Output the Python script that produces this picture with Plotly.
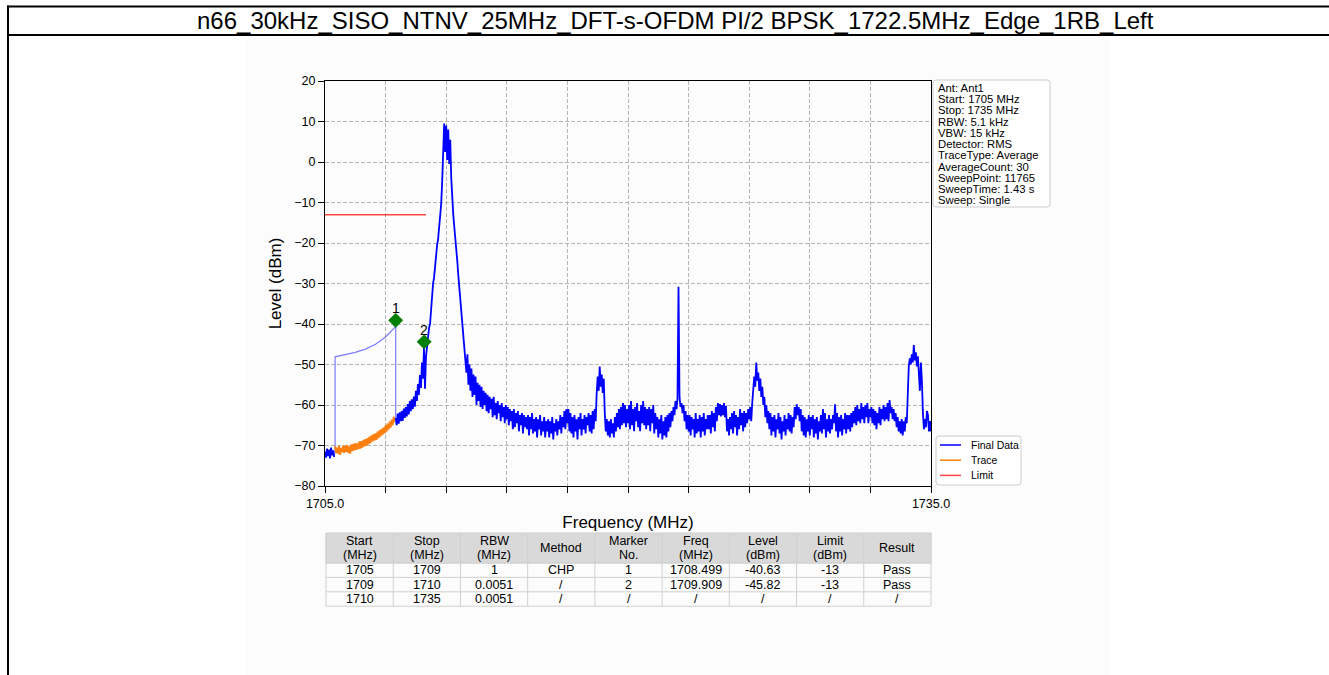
import numpy as np
import plotly.graph_objects as go

W, H = 1329, 675

title_text = "n66_30kHz_SISO_NTNV_25MHz_DFT-s-OFDM PI/2 BPSK_1722.5MHz_Edge_1RB_Left"

# ---- spectrum data (MHz / dBm), sampled every 0.05 MHz ----
step = 0.05
blue_a_start = 1705.0
blue_a_level = [-71.5, -73.0, -70.8, -72.6, -71.0, -73.2, -70.5, -72.4, -71.2, -72.8]

orange_start = 1705.5
orange_level = [
    -70.2, -71.9, -70.5, -72.0, -70.1, -72.3, -70.6, -71.7, -70.0, -71.8,
    -70.1, -71.6, -69.9, -71.8, -70.2, -72.0, -69.7, -71.4, -69.6, -71.2,
    -69.4, -71.1, -69.5, -70.9, -69.0, -70.8, -68.9, -70.5, -68.6, -70.2,
    -68.4, -70.1, -68.2, -69.7, -67.8, -69.4, -67.5, -69.0, -67.2, -68.8,
    -67.0, -68.6, -66.6, -68.2, -66.2, -67.8, -65.9, -67.4, -65.5, -67.0,
    -65.0, -66.6, -64.6, -66.1, -64.1, -65.6, -63.6, -65.0, -62.9, -64.3,
]

chp_freq = [1705.5, 1705.5, 1706.0, 1706.5, 1707.0, 1707.5, 1708.0, 1708.5, 1708.5]
chp_level = [-71.0, -48.1, -47.6, -47.0, -46.2, -45.0, -43.2, -40.6, -63.2]

blue_b_start = 1708.5
blue_b_level = [
    -63.2, -65.0, -62.1, -64.6, -61.8, -64.0, -61.5, -63.9, -60.9, -63.2,
    -60.5, -62.8, -59.8, -62.3, -59.0, -61.5, -58.6, -61.0, -57.9, -60.4, -56.5, -59.0, -54.8, -57.5, -52.6, -55.8, -49.5, -53.5, -45.9, -56.0,
    -48.0, -45.0, -44.0, -41.0, -40.0, -36.0, -34.0, -30.0, -28.5, -25.0, -23.5, -20.5, -19.0, -16.0, -14.0, -10.5, -5.0, 4.0, 9.5, 2.5,
    9.0, 0.5, 8.0, -0.5, 5.5, -4.0, -10.5, -13.0, -16.0, -18.5, -22.0, -24.5, -28.0, -31.0, -34.5, -37.0, -40.0, -43.0, -45.0, -48.0,
    -52.0, -47.5, -55.0, -50.0, -56.5, -51.0, -58.0, -52.5, -57.5, -53.0, -60.0, -54.5, -59.0, -55.0, -60.5, -55.5, -61.0, -56.5, -60.0, -57.0,
    -61.5, -57.5, -62.0, -58.0, -61.0, -58.5, -63.0, -58.0, -62.5, -59.5, -63.5, -59.0, -62.0, -60.0, -64.0, -59.5, -63.0, -60.5, -64.5, -60.0,
    -63.5, -60.5, -65.0, -61.0, -64.0, -61.5, -66.0, -61.0, -65.5, -62.0, -64.5, -61.5, -66.5, -62.5, -65.0, -62.0, -67.0, -62.5, -65.5, -63.0,
    -66.0, -62.5, -67.5, -63.0, -66.0, -62.0, -67.0, -63.5, -66.5, -63.0, -68.0, -63.5, -66.0, -62.5, -67.5, -64.0, -66.5, -63.0, -68.0, -64.0,
    -66.5, -63.5, -68.0, -64.0, -67.0, -63.0, -68.5, -64.5, -66.5, -63.5, -67.5, -64.0, -66.0, -62.5, -67.0, -63.0, -65.5, -61.5, -66.0, -61.0,
    -64.5, -61.0, -66.5, -62.0, -67.0, -63.0, -68.0, -62.5, -66.5, -63.5, -68.5, -63.0, -66.0, -62.0, -67.5, -63.5, -66.0, -62.5, -67.0, -63.0,
    -65.0, -62.0, -66.5, -62.5, -67.0, -61.5, -66.0, -61.0, -64.0, -57.0, -53.0, -56.5, -50.5, -55.5, -52.5, -57.0, -53.5, -62.0, -66.5, -63.5,
    -67.5, -64.0, -68.0, -63.5, -67.0, -64.5, -68.0, -63.0, -66.5, -62.0, -65.5, -61.0, -66.0, -60.5, -65.0, -59.5, -64.5, -60.0, -65.5, -61.0,
    -64.5, -60.0, -66.0, -59.0, -65.0, -61.0, -66.5, -60.5, -64.0, -59.5, -65.5, -61.5, -66.5, -60.0, -64.5, -59.0, -65.0, -60.5, -66.0, -61.0,
    -65.0, -60.5, -66.5, -61.0, -64.5, -60.0, -67.0, -62.0, -66.0, -63.0, -68.0, -63.5, -67.0, -62.5, -68.5, -64.0, -67.5, -63.0, -68.0, -62.5,
    -66.5, -62.0, -65.5, -61.5, -64.0, -60.5, -62.5, -59.0, -61.0, -58.5, -30.8, -58.0, -60.5, -59.5, -62.0, -60.0, -64.0, -61.5, -66.0, -62.5,
    -66.5, -62.5, -67.5, -63.0, -66.0, -63.5, -68.0, -62.0, -67.0, -63.5, -66.5, -62.5, -68.0, -63.0, -66.5, -62.0, -67.5, -63.5, -66.0, -62.5,
    -66.0, -62.5, -67.0, -61.5, -65.5, -62.0, -66.5, -60.5, -64.0, -59.5, -62.5, -59.8, -62.8, -60.0, -62.5, -59.5, -63.0, -60.2, -66.5, -63.5,
    -67.5, -63.0, -66.0, -62.0, -67.0, -61.5, -65.5, -62.5, -67.5, -63.0, -66.0, -61.0, -65.0, -62.0, -66.5, -61.5, -65.5, -62.0, -64.5, -61.0,
    -63.5, -60.5, -64.0, -59.5, -57.0, -53.0, -55.5, -49.5, -54.0, -52.0, -56.5, -53.5, -58.0, -55.5, -60.0, -58.0, -63.0, -60.0, -64.5, -61.5,
    -66.0, -62.0, -67.5, -63.0, -66.5, -62.5, -68.0, -63.5, -66.0, -62.0, -67.0, -63.0, -68.5, -64.0, -66.5, -62.5, -67.5, -63.5, -66.0, -62.0,
    -66.5, -62.5, -67.0, -63.0, -65.5, -60.5, -63.5, -59.8, -62.5, -60.5, -64.0, -61.0, -66.5, -62.5, -67.5, -63.0, -68.0, -63.5, -66.5, -62.5,
    -67.5, -63.0, -66.0, -62.5, -68.0, -63.5, -67.0, -63.0, -68.5, -64.0, -66.5, -62.5, -67.0, -61.0, -66.0, -62.0, -68.0, -63.5, -66.5, -62.5,
    -67.0, -63.5, -66.0, -62.5, -64.5, -59.8, -66.5, -62.0, -68.0, -63.0, -66.5, -62.5, -67.5, -63.5, -66.0, -62.0, -67.0, -62.5, -66.0, -62.5,
    -66.5, -62.0, -65.5, -61.5, -64.5, -60.5, -65.0, -60.0, -64.0, -61.0, -64.5, -59.5, -63.5, -60.5, -64.5, -60.0, -63.0, -59.5, -64.5, -61.0,
    -63.0, -60.5, -64.5, -61.0, -65.0, -61.5, -66.0, -62.0, -64.5, -60.5, -65.0, -61.0, -63.5, -60.0, -64.0, -60.5, -63.5, -59.5, -64.0, -58.8,
    -62.0, -60.5, -63.5, -61.0, -64.0, -62.0, -65.5, -63.0, -66.5, -64.0, -67.0, -63.5, -67.5, -64.0, -66.5, -63.0, -64.5, -55.0, -50.5, -48.5,
    -50.0, -47.5, -49.5, -45.2, -49.0, -47.0, -50.5, -48.0, -51.5, -56.5, -49.5, -54.0, -62.0, -66.0, -63.5, -65.5, -61.5, -62.5, -66.5, -64.0,
    -66.5,
]

limit_freq = [1705.0, 1709.0, 1710.0]
limit_level = [-13.0, -13.0, -13.0]

marker_names = ["1", "2"]
marker_freq = [1708.499, 1709.909]
marker_plot_level = [-39.1, -44.4]

x_ticks = [1705, 1708, 1711, 1714, 1717, 1720, 1723, 1726, 1729, 1732, 1735]
x_ticktext = ["1705.0", "", "", "", "", "", "", "", "", "", "1735.0"]
y_ticks = [-80, -70, -60, -50, -40, -30, -20, -10, 0, 10, 20]

info_lines = [
    "Ant: Ant1", "Start: 1705 MHz", "Stop: 1735 MHz", "RBW: 5.1 kHz", "VBW: 15 kHz",
    "Detector: RMS", "TraceType: Average", "AverageCount: 30", "SweepPoint: 11765",
    "SweepTime: 1.43 s", "Sweep: Single",
]

legend_names = ["Final Data", "Trace", "Limit"]
legend_colors = ["#0000ff", "#ff7f0e", "rgba(255,0,0,0.72)"]

table_header = [["Start", "(MHz)"], ["Stop", "(MHz)"], ["RBW", "(MHz)"], ["Method"],
                ["Marker", "No."], ["Freq", "(MHz)"], ["Level", "(dBm)"], ["Limit", "(dBm)"], ["Result"]]
table_rows = [
    ["1705", "1709", "1", "CHP", "1", "1708.499", "-40.63", "-13", "Pass"],
    ["1709", "1710", "0.0051", "/", "2", "1709.909", "-45.82", "-13", "Pass"],
    ["1710", "1735", "0.0051", "/", "/", "/", "/", "/", "/"],
]

# ---- build arrays ----
blue_a_freq = np.round(blue_a_start + step * np.arange(len(blue_a_level)), 3)
orange_freq = np.round(orange_start + step * np.arange(len(orange_level)), 3)
blue_b_freq = np.round(blue_b_start + step * np.arange(len(blue_b_level)), 3)


def px(x):
    return x / W


def py(y):
    return 1 - y / H


FONT = "Liberation Sans, Arial, Helvetica, sans-serif"
BLUE = "#0000ff"

fig = go.Figure()

# CHP segment of the final data (thin line)
fig.add_trace(go.Scatter(
    x=[blue_a_freq[-1]] + chp_freq, y=[blue_a_level[-1]] + chp_level, mode="lines",
    line=dict(color="rgba(40,40,255,0.6)", width=1.2), showlegend=False, hoverinfo="skip"))

fig.add_trace(go.Scatter(x=orange_freq, y=orange_level, mode="lines", name="Trace",
                         line=dict(color="#ff7f0e", width=1.8), showlegend=False))

fig.add_trace(go.Scatter(x=blue_a_freq, y=blue_a_level, mode="lines", name="Final Data",
                         line=dict(color=BLUE, width=1.8), showlegend=False))
fig.add_trace(go.Scatter(x=blue_b_freq, y=blue_b_level, mode="lines", name="Final Data",
                         line=dict(color=BLUE, width=1.8), showlegend=False))

fig.add_trace(go.Scatter(x=limit_freq, y=limit_level, mode="lines", name="Limit",
                         line=dict(color="rgba(255,0,0,0.72)", width=1.5), showlegend=False))

fig.add_trace(go.Scatter(x=marker_freq, y=marker_plot_level, mode="markers",
                         marker=dict(symbol="diamond", size=11, color="#008000",
                                     line=dict(color="#006400", width=0.5)),
                         showlegend=False))

annotations = []
for name, f, lv in zip(marker_names, marker_freq, marker_plot_level):
    annotations.append(dict(x=f, y=lv, xref="x", yref="y", text=name, showarrow=False,
                            yshift=12, font=dict(family=FONT, size=14, color="black")))

shapes = []
# page frame
shapes.append(dict(type="rect", xref="paper", yref="paper", x0=px(247), x1=px(1110), y0=py(675), y1=py(37),
                   fillcolor="#fcfcfc", line=dict(width=0), layer="below"))
shapes.append(dict(type="line", xref="paper", yref="paper", x0=px(7), x1=px(1329), y0=py(6.5), y1=py(6.5),
                   line=dict(color="black", width=2)))
shapes.append(dict(type="line", xref="paper", yref="paper", x0=px(7), x1=px(1329), y0=py(35), y1=py(35),
                   line=dict(color="black", width=2)))
shapes.append(dict(type="line", xref="paper", yref="paper", x0=px(8), x1=px(8), y0=py(5.5), y1=py(675),
                   line=dict(color="black", width=2)))
annotations.append(dict(x=px(675), y=py(21), xref="paper", yref="paper", text=title_text, showarrow=False,
                        xanchor="center", yanchor="middle", font=dict(family=FONT, size=24, color="black")))


def rounded_box(x0, y0, x1, y1, r=3):
    X0, X1 = px(x0), px(x1)
    Y0, Y1 = py(y0), py(y1)
    rx, ry = r / W, r / H
    return (f"M {X0+rx},{Y0} L {X1-rx},{Y0} Q {X1},{Y0} {X1},{Y0-ry} L {X1},{Y1+ry} "
            f"Q {X1},{Y1} {X1-rx},{Y1} L {X0+rx},{Y1} Q {X0},{Y1} {X0},{Y1+ry} "
            f"L {X0},{Y0-ry} Q {X0},{Y0} {X0+rx},{Y0} Z")


# info box
shapes.append(dict(type="path", xref="paper", yref="paper", path=rounded_box(933, 80, 1050, 207),
                   fillcolor="white", line=dict(color="#cccccc", width=1)))
for i, t in enumerate(info_lines):
    annotations.append(dict(x=px(936.5), y=py(88.0 + i * 11.25), xref="paper", yref="paper", text=t,
                            showarrow=False, xanchor="left", yanchor="middle",
                            font=dict(family=FONT, size=11.3, color="black")))

# legend box
shapes.append(dict(type="path", xref="paper", yref="paper", path=rounded_box(936, 436, 1021, 485),
                   fillcolor="white", line=dict(color="#cccccc", width=1)))
for i, (n, c) in enumerate(zip(legend_names, legend_colors)):
    yy = 445 + i * 15.2
    shapes.append(dict(type="line", xref="paper", yref="paper", x0=px(940), x1=px(961), y0=py(yy), y1=py(yy),
                       line=dict(color=c, width=1.5)))
    annotations.append(dict(x=px(969), y=py(yy), xref="paper", yref="paper", text=n, showarrow=False,
                            xanchor="left", yanchor="middle", font=dict(family=FONT, size=10.5, color="black")))

# table
tx0, tx1 = 326, 931
ncol = len(table_header)
cw = (tx1 - tx0) / ncol
hy0, hy1 = 533, 563
row_h = 14.4
shapes.append(dict(type="rect", xref="paper", yref="paper", x0=px(tx0), x1=px(tx1), y0=py(hy1), y1=py(hy0),
                   fillcolor="#d9d9d9", line=dict(color="#d0d0d0", width=1)))
ty_end = hy1 + row_h * len(table_rows)
for r in range(len(table_rows) + 1):
    yy = hy1 + r * row_h
    shapes.append(dict(type="line", xref="paper", yref="paper", x0=px(tx0), x1=px(tx1), y0=py(yy), y1=py(yy),
                       line=dict(color="#d0d0d0", width=1)))
for c in range(ncol + 1):
    xx = tx0 + c * cw
    shapes.append(dict(type="line", xref="paper", yref="paper", x0=px(xx), x1=px(xx), y0=py(hy0), y1=py(ty_end),
                       line=dict(color="#d0d0d0", width=1)))
for c, hdr in enumerate(table_header):
    cx = tx0 + (c + 0.5) * cw
    if len(hdr) == 2:
        ys = [541, 555]
    else:
        ys = [548]
    for t, yy in zip(hdr, ys):
        annotations.append(dict(x=px(cx), y=py(yy), xref="paper", yref="paper", text=t, showarrow=False,
                                xanchor="center", yanchor="middle", font=dict(family=FONT, size=12.5, color="black")))
for r, row in enumerate(table_rows):
    yy = hy1 + (r + 0.5) * row_h
    for c, t in enumerate(row):
        cx = tx0 + (c + 0.5) * cw
        annotations.append(dict(x=px(cx), y=py(yy), xref="paper", yref="paper", text=t, showarrow=False,
                                xanchor="center", yanchor="middle", font=dict(family=FONT, size=12.5, color="black")))

fig.update_layout(
    width=W, height=H,
    margin=dict(l=0, r=0, t=0, b=0),
    paper_bgcolor="white", plot_bgcolor="white",
    font=dict(family=FONT, color="black"),
    showlegend=False,
    shapes=shapes,
    annotations=annotations,
    xaxis=dict(
        domain=[px(325), px(931)], range=[1705, 1735],
        tickmode="array", tickvals=x_ticks, ticktext=x_ticktext,
        ticks="outside", ticklen=6, tickwidth=1, tickcolor="black",
        showline=True, linecolor="black", linewidth=1, mirror=True,
        showgrid=True, gridcolor="#b5b5b5", gridwidth=0.8, griddash="4px,2px",
        zeroline=False, tickfont=dict(size=12.5, family=FONT, color="black"),
        title=dict(text="Frequency (MHz)", font=dict(size=17, family=FONT, color="black"), standoff=6),
        automargin=False,
    ),
    yaxis=dict(
        domain=[py(486), py(81)], range=[-80, 20],
        tickmode="array", tickvals=y_ticks, ticktext=[str(v).replace("-", "\u2212") for v in y_ticks],
        ticks="outside", ticklen=6, tickwidth=1, tickcolor="black",
        showline=True, linecolor="black", linewidth=1, mirror=True,
        showgrid=True, gridcolor="#b5b5b5", gridwidth=0.8, griddash="4px,2px",
        zeroline=False, tickfont=dict(size=12.5, family=FONT, color="black"),
        title=dict(text="Level (dBm)", font=dict(size=17, family=FONT, color="black"), standoff=8),
        automargin=False,
    ),
)

fig.write_html("out.html", config={"displayModeBar": False},
               post_script="document.body.style.margin='0';document.body.style.padding='0';")
